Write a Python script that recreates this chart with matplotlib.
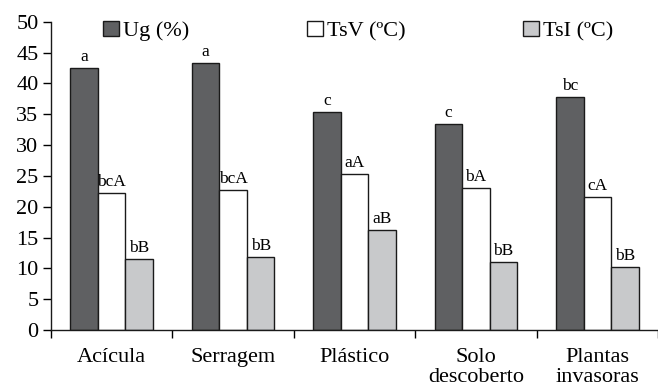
import matplotlib
matplotlib.use("Agg")
import matplotlib.pyplot as plt
import numpy as np
from matplotlib.patches import Patch

categories = ["Acícula", "Serragem", "Plástico", "Solo\ndescoberto", "Plantas\ninvasoras"]
series_names = ["Ug (%)", "TsV (ºC)", "TsI (ºC)"]
ug = [42.5, 43.35, 35.35, 33.45, 37.8]
tsv = [22.2, 22.75, 25.3, 23.0, 21.6]
tsi = [11.5, 11.8, 16.2, 11.0, 10.2]
ug_labels = ["a", "a", "c", "c", "bc"]
tsv_labels = ["bcA", "bcA", "aA", "bA", "cA"]
tsi_labels = ["bB", "bB", "aB", "bB", "bB"]
yticks = [0, 5, 10, 15, 20, 25, 30, 35, 40, 45, 50]

colors = ["#5f6062", "#ffffff", "#c8c9cb"]

plt.rcParams['font.family'] = ['Liberation Serif', 'DejaVu Serif']

fig = plt.figure(figsize=(6.58, 3.89), dpi=100)
ax = fig.add_axes([51/658, 1-330/389, 1-51/658, (330-21.7)/389])

x = np.arange(len(categories))
w = 0.227
series = [ug, tsv, tsi]
labels = [ug_labels, tsv_labels, tsi_labels]
for i, (vals, labs) in enumerate(zip(series, labels)):
    pos = x + (i-1)*w
    ax.bar(pos, vals, width=w, color=colors[i], edgecolor="#1a1a1a", linewidth=1.0, zorder=2)
    for p, v, l in zip(pos, vals, labs):
        ax.annotate(l, (p, v), xytext=(0, 2), textcoords="offset points",
                    ha="center", va="bottom", fontsize=12.5)

ax.set_ylim(0, 50)
ax.set_xlim(-0.5, (658-51)/123 - 0.5)
ax.set_yticks(yticks)
ax.tick_params(axis="y", labelsize=16, length=6, width=1, direction="out", pad=3)
ax.set_xticks(x)
ax.set_xticklabels(categories, fontsize=16, linespacing=1.05)
ax.tick_params(axis="x", which="major", length=0, pad=13)
ax.set_xticks(np.arange(-0.5, len(categories)-0.4, 1.0), minor=True)
ax.tick_params(axis="x", which="minor", length=6, width=1, direction="out")
for s in ["top", "right"]:
    ax.spines[s].set_visible(False)
for s in ["left", "bottom"]:
    ax.spines[s].set_linewidth(1.0)
    ax.spines[s].set_color("#1a1a1a")

handles = [Patch(facecolor=c, edgecolor="#1a1a1a", linewidth=1.0) for c in colors]
fig.legend(handles, series_names, loc="center left", bbox_to_anchor=(103/658, 1-31/389),
           ncol=3, frameon=False, fontsize=16, handlelength=0.7, handleheight=0.7,
           handletextpad=0.2, columnspacing=5.3, borderpad=0, borderaxespad=0)

fig.savefig("out.png", dpi=100)
